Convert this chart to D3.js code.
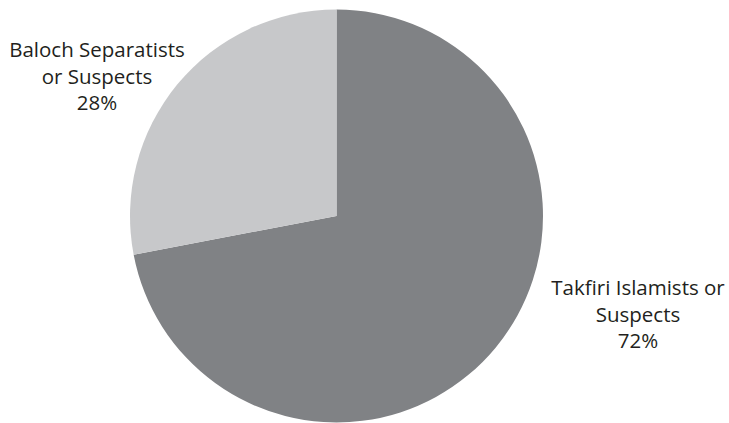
<!DOCTYPE html>
<html>
<head>
<meta charset="utf-8">
<script src="https://cdn.jsdelivr.net/npm/d3@7"></script>
<style>
  html, body { margin: 0; padding: 0; background: #fff; }
  svg { display: block; }
  .lbl { font-family: "Open Sans", Lato, sans-serif; font-size: 20.5px; fill: #231f20; }
</style>
</head>
<body>
<svg id="chart" width="729" height="423"></svg>
<script>
// Attack attribution shares
const categories = ["Takfiri Islamists or Suspects", "Baloch Separatists or Suspects"];
const shares = [72, 28];
const labelLines = [
  ["Takfiri Islamists or", "Suspects", "72%"],
  ["Baloch Separatists", "or Suspects", "28%"]
];
const colors = ["#808285", "#c7c8ca"];

const cx = 336.5, cy = 216, radius = 206.5;
const lineH = 26.5;
// Label block centres and first baselines (right block, left block)
const labelX = [638, 97];
const labelY = [295, 57];

const svg = d3.select("#chart");
const g = svg.append("g").attr("transform", `translate(${cx},${cy})`);

const pie = d3.pie().sort(null).value(d => d.value);
const arc = d3.arc().innerRadius(0).outerRadius(radius);

const data = categories.map((c, i) => ({ name: c, value: shares[i], color: colors[i], lines: labelLines[i] }));
const arcs = pie(data);

g.selectAll("path.slice")
  .data(arcs)
  .join("path")
  .attr("class", "slice")
  .attr("d", arc)
  .attr("fill", d => d.data.color);

svg.append("g").selectAll("text")
  .data(arcs)
  .join("text")
  .attr("class", "lbl")
  .attr("text-anchor", "middle")
  .each(function(d, i) {
    const t = d3.select(this);
    d.data.lines.forEach((ln, k) => {
      t.append("tspan")
        .attr("x", labelX[i])
        .attr("y", labelY[i] + k * lineH)
        .text(ln);
    });
  });
</script>
</body>
</html>
